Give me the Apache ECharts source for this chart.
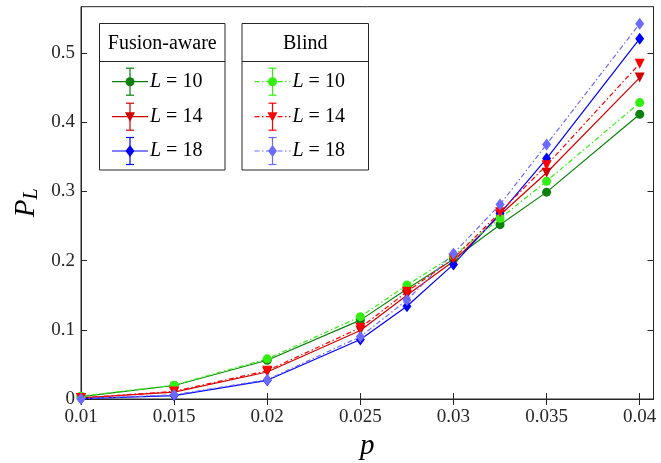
<!DOCTYPE html>
<html>
<head>
<meta charset="utf-8">
<script src="https://cdn.jsdelivr.net/npm/echarts@6/dist/echarts.min.js"></script>
<style>
  html, body { margin: 0; padding: 0; background: #fff; }
  #chart { width: 661px; height: 463px; }
</style>
</head>
<body>
<div id="chart"></div>
<script>
// Physical error rate p at which each code size was simulated
const pValues = [0.01, 0.015, 0.02, 0.025, 0.0275, 0.03, 0.0325, 0.035, 0.04];

// Logical error rate P_L, fusion-aware decoder
const fusionL10 = [0.0035, 0.0195, 0.056, 0.114, 0.159, 0.202, 0.252, 0.299, 0.4115];
const fusionL14 = [0.0015, 0.010, 0.039, 0.099, 0.150, 0.199, 0.266, 0.327, 0.4645];
const fusionL18 = [0.0005, 0.005, 0.027, 0.086, 0.134, 0.1945, 0.268, 0.3475, 0.5208];

// Logical error rate P_L, blind decoder
const blindL10 = [0.004, 0.020, 0.058, 0.119, 0.1646, 0.207, 0.261, 0.3148, 0.4284];
const blindL14 = [0.0015, 0.011, 0.041, 0.103, 0.155, 0.203, 0.270, 0.338, 0.4847];
const blindL18 = [0.0005, 0.006, 0.028, 0.090, 0.143, 0.2104, 0.281, 0.368, 0.5425];

const xTicks = [0.01, 0.015, 0.02, 0.025, 0.03, 0.035, 0.04];
const yTicks = [0, 0.1, 0.2, 0.3, 0.4, 0.5];

const SERIF = 'Liberation Serif';
const AXIS_COLOR = '#262626';
const DASH_DOT = [5, 2.5, 1.5, 2.5];

const styles = [
  { name: 'Fusion-aware L=10', data: fusionL10, color: '#0b800b', symbol: 'circle', size: 9, dash: 'solid' },
  { name: 'Fusion-aware L=14', data: fusionL14, color: '#d00000', symbol: 'triangle', size: 10, dash: 'solid' },
  { name: 'Fusion-aware L=18', data: fusionL18, color: '#0000ff', symbol: 'diamond', size: 11, dash: 'solid' },
  { name: 'Blind L=10', data: blindL10, color: '#33ee11', symbol: 'circle', size: 9, dash: DASH_DOT },
  { name: 'Blind L=14', data: blindL14, color: '#ff0000', symbol: 'triangle', size: 10, dash: DASH_DOT },
  { name: 'Blind L=18', data: blindL18, color: '#6b6bff', symbol: 'diamond', size: 11, dash: DASH_DOT }
];

const series = styles.map(s => ({
  name: s.name,
  type: 'line',
  data: pValues.map((p, i) => [p, s.data[i]]),
  symbol: s.symbol,
  symbolSize: s.symbol === 'diamond' ? [9, 12] : s.size,
  symbolRotate: s.symbol === 'triangle' ? 180 : 0,
  itemStyle: { color: s.color },
  lineStyle: { color: s.color, width: 1.2, type: s.dash },
  emphasis: { disabled: true },
  animation: false
}));

// Legend drawn as two boxed panels with error-bar style keys
function legendPanel(x0, width, title, entries, dashed) {
  const top = 23.5, bottom = 170, sep = 61.5;
  const els = [
    { type: 'rect', shape: { x: x0, y: top, width: width, height: bottom - top },
      style: { fill: '#fff', stroke: AXIS_COLOR, lineWidth: 1 } },
    { type: 'line', shape: { x1: x0, y1: sep, x2: x0 + width, y2: sep },
      style: { stroke: AXIS_COLOR, lineWidth: 1 } },
    { type: 'text', x: x0 + width / 2, y: (top + sep) / 2 + 1,
      style: { text: title, fontFamily: SERIF, fontSize: 20, fill: '#000', align: 'center', verticalAlign: 'middle' } }
  ];
  const rows = [81.7, 116.7, 151];
  entries.forEach((e, k) => {
    const y = rows[k];
    const lx1 = x0 + 12.5, lx2 = x0 + 48.5, mx = x0 + 30.5;
    els.push({ type: 'line', shape: { x1: lx1, y1: y, x2: lx2, y2: y },
      style: { stroke: e.color, lineWidth: 1.2, lineDash: dashed ? DASH_DOT : null } });
    els.push({ type: 'line', shape: { x1: mx, y1: y - 13.5, x2: mx, y2: y + 13.5 },
      style: { stroke: e.color, lineWidth: 1.2 } });
    els.push({ type: 'line', shape: { x1: mx - 4, y1: y - 13.5, x2: mx + 4, y2: y - 13.5 },
      style: { stroke: e.color, lineWidth: 1.2 } });
    els.push({ type: 'line', shape: { x1: mx - 4, y1: y + 13.5, x2: mx + 4, y2: y + 13.5 },
      style: { stroke: e.color, lineWidth: 1.2 } });
    if (e.symbol === 'circle') {
      els.push({ type: 'circle', shape: { cx: mx, cy: y, r: 4.5 }, style: { fill: e.color } });
    } else if (e.symbol === 'triangle') {
      els.push({ type: 'polygon', shape: { points: [[mx - 5, y - 4.5], [mx + 5, y - 4.5], [mx, y + 5]] }, style: { fill: e.color } });
    } else {
      els.push({ type: 'polygon', shape: { points: [[mx, y - 6], [mx + 4.5, y], [mx, y + 6], [mx - 4.5, y]] }, style: { fill: e.color } });
    }
    els.push({ type: 'text', x: x0 + 50.5, y: y,
      style: {
        text: '{i|L} = ' + e.label,
        fontFamily: SERIF, fontSize: 20, fill: '#000', verticalAlign: 'middle',
        rich: { i: { fontStyle: 'italic', fontFamily: SERIF, fontSize: 20 } }
      } });
  });
  return els;
}

const labels = ['10', '14', '18'];
const fusionEntries = styles.slice(0, 3).map((s, k) => ({ color: s.color, symbol: s.symbol, label: labels[k] }));
const blindEntries = styles.slice(3).map((s, k) => ({ color: s.color, symbol: s.symbol, label: labels[k] }));

const fmt = v => {
  if (Math.abs(v) < 1e-12) return '0';
  return String(parseFloat(v.toFixed(4)));
};

const tickStyle = { show: true, inside: true, length: 6, lineStyle: { color: AXIS_COLOR } };

const chart = echarts.init(document.getElementById('chart'), null, { renderer: 'canvas' });
chart.setOption({
  backgroundColor: '#fff',
  animation: false,
  textStyle: { fontFamily: SERIF },
  grid: { left: 81, right: 7.5, top: 6.7, bottom: 64, show: true, borderColor: AXIS_COLOR, borderWidth: 1,
    backgroundColor: 'transparent', containLabel: false, outerBoundsMode: 'none' },
  xAxis: [{
    type: 'value', min: 0.01, max: 0.04074, interval: 0.005,
    name: '{p|p}', nameLocation: 'middle', nameGap: 33, nameMoveOverlap: false,
    nameTextStyle: { rich: { p: { fontFamily: SERIF, fontStyle: 'italic', fontSize: 29, color: '#000' } } },
    axisLine: { show: true, lineStyle: { color: AXIS_COLOR } },
    axisTick: Object.assign({ customValues: xTicks }, tickStyle),
    axisLabel: { fontFamily: SERIF, fontSize: 19, color: '#262626', margin: 9, formatter: fmt, customValues: xTicks },
    splitLine: { show: false }
  }, {
    type: 'value', min: 0.01, max: 0.04074, interval: 0.005, position: 'top',
    axisLine: { show: true, lineStyle: { color: AXIS_COLOR } },
    axisTick: Object.assign({ customValues: xTicks }, tickStyle),
    axisLabel: { show: false }, splitLine: { show: false }
  }],
  yAxis: [{
    type: 'value', min: 0, max: 0.567, interval: 0.1,
    name: '{p|P}{s|L}', nameLocation: 'middle', nameGap: 39, nameMoveOverlap: false,
    nameTextStyle: { rich: {
      p: { fontFamily: SERIF, fontStyle: 'italic', fontSize: 29, color: '#000' },
      s: { fontFamily: SERIF, fontStyle: 'italic', fontSize: 20, color: '#000', padding: [12, 0, 0, 0] }
    } },
    axisLine: { show: true, lineStyle: { color: AXIS_COLOR } },
    axisTick: Object.assign({ customValues: yTicks }, tickStyle),
    axisLabel: { fontFamily: SERIF, fontSize: 19, color: '#262626', margin: 6, formatter: fmt, customValues: yTicks },
    splitLine: { show: false }
  }, {
    type: 'value', min: 0, max: 0.567, interval: 0.1, position: 'right',
    axisLine: { show: true, lineStyle: { color: AXIS_COLOR } },
    axisTick: Object.assign({ customValues: yTicks }, tickStyle),
    axisLabel: { show: false }, splitLine: { show: false }
  }],
  series: series,
  graphic: [].concat(
    legendPanel(99.5, 125.5, 'Fusion-aware', fusionEntries, false),
    legendPanel(242, 126.5, 'Blind', blindEntries, true)
  )
});
</script>
</body>
</html>
